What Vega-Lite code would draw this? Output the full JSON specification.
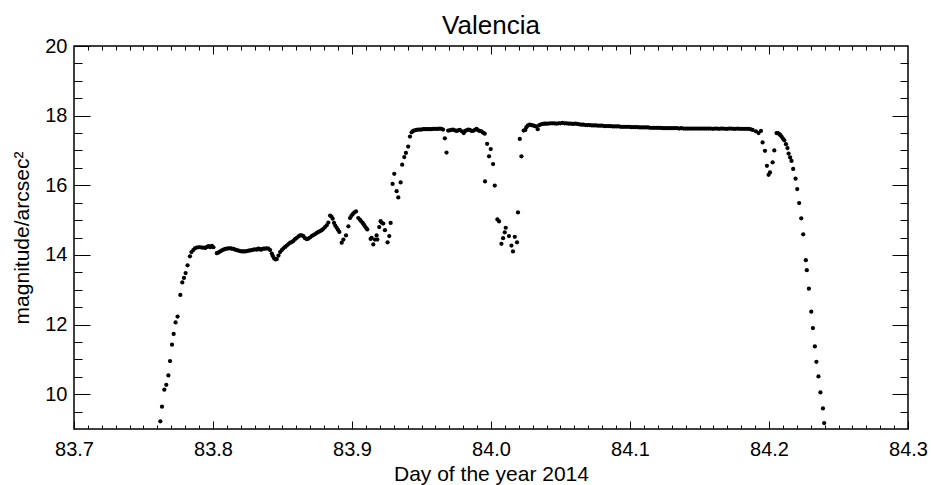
{
  "$schema": "https://vega.github.io/schema/vega-lite/v6.json",
  "width": 834,
  "height": 383,
  "autosize": {"type": "none"},
  "padding": {"left": 74, "top": 46, "right": 23, "bottom": 56},
  "title": {"text": "Valencia", "fontSize": 26, "fontWeight": "normal", "font": "Liberation Sans", "color": "black", "offset": 8, "dy": 11, "anchor": "middle"},
  "config": {
    "font": "Liberation Sans",
    "view": {"stroke": "black", "strokeWidth": 1.5},
    "axis": {"grid": false, "domain": false, "tickColor": "black", "tickWidth": 1, "labelColor": "black", "titleColor": "black", "labelFontSize": 20, "titleFontSize": 21, "titleFontWeight": "normal", "labelFlush": false, "labelOverlap": false}
  },
  "data": {"values": [
    {"d":83.7621,"m":9.22},{"d":83.7633,"m":9.64},{"d":83.7650,"m":10.13},{"d":83.7664,"m":10.27},{"d":83.7679,"m":10.54},{"d":83.7691,"m":10.95},{"d":83.7705,"m":11.42},{"d":83.7717,"m":11.73},{"d":83.7731,"m":12.06},{"d":83.7745,"m":12.23},{"d":83.7765,"m":12.85},{"d":83.7779,"m":13.21},{"d":83.7791,"m":13.34},{"d":83.7803,"m":13.48},{"d":83.7817,"m":13.70},{"d":83.7834,"m":13.96},
    {"d":83.7845,"m":14.08},{"d":83.7858,"m":14.14},{"d":83.7870,"m":14.19},{"d":83.7882,"m":14.21},{"d":83.7895,"m":14.22},{"d":83.7908,"m":14.22},{"d":83.7920,"m":14.21},{"d":83.7933,"m":14.21},{"d":83.7945,"m":14.20},{"d":83.7957,"m":14.23},{"d":83.7968,"m":14.25},{"d":83.7980,"m":14.22},{"d":83.7992,"m":14.26},{"d":83.8003,"m":14.22},
    {"d":83.8028,"m":14.05},{"d":83.8040,"m":14.07},{"d":83.8052,"m":14.10},{"d":83.8064,"m":14.13},{"d":83.8076,"m":14.15},{"d":83.8088,"m":14.17},{"d":83.8100,"m":14.18},{"d":83.8112,"m":14.19},{"d":83.8124,"m":14.19},{"d":83.8136,"m":14.18},{"d":83.8148,"m":14.17},{"d":83.8160,"m":14.15},{"d":83.8172,"m":14.14},{"d":83.8184,"m":14.12},{"d":83.8196,"m":14.11},{"d":83.8208,"m":14.10},{"d":83.8219,"m":14.10},{"d":83.8232,"m":14.10},{"d":83.8244,"m":14.11},{"d":83.8256,"m":14.12},{"d":83.8268,"m":14.13},{"d":83.8280,"m":14.14},{"d":83.8291,"m":14.15},{"d":83.8303,"m":14.16},{"d":83.8316,"m":14.15},{"d":83.8325,"m":14.18},{"d":83.8334,"m":14.17},{"d":83.8343,"m":14.15},{"d":83.8351,"m":14.16},{"d":83.8363,"m":14.18},{"d":83.8375,"m":14.18},{"d":83.8387,"m":14.19},{"d":83.8399,"m":14.18},{"d":83.8411,"m":14.14},{"d":83.8423,"m":14.04},{"d":83.8430,"m":13.97},{"d":83.8440,"m":13.90},{"d":83.8450,"m":13.87},{"d":83.8459,"m":13.88},{"d":83.8471,"m":13.98},{"d":83.8483,"m":14.08},{"d":83.8495,"m":14.14},{"d":83.8507,"m":14.19},{"d":83.8519,"m":14.23},{"d":83.8531,"m":14.27},{"d":83.8543,"m":14.31},{"d":83.8555,"m":14.35},{"d":83.8567,"m":14.37},{"d":83.8578,"m":14.40},{"d":83.8590,"m":14.45},{"d":83.8603,"m":14.49},{"d":83.8615,"m":14.53},{"d":83.8627,"m":14.56},{"d":83.8639,"m":14.56},{"d":83.8650,"m":14.54},{"d":83.8662,"m":14.48},{"d":83.8675,"m":14.45},{"d":83.8686,"m":14.47},{"d":83.8698,"m":14.50},{"d":83.8710,"m":14.54},{"d":83.8722,"m":14.57},{"d":83.8735,"m":14.60},{"d":83.8747,"m":14.63},{"d":83.8758,"m":14.66},{"d":83.8770,"m":14.68},{"d":83.8782,"m":14.71},{"d":83.8794,"m":14.75},{"d":83.8806,"m":14.80},{"d":83.8818,"m":14.85},{"d":83.8830,"m":14.93},{"d":83.8842,"m":15.13},{"d":83.8852,"m":15.10},{"d":83.8861,"m":15.04},{"d":83.8871,"m":14.92},{"d":83.8880,"m":14.84},{"d":83.8890,"m":14.78},{"d":83.8899,"m":14.72},{"d":83.8909,"m":14.66},
    {"d":83.8926,"m":14.35},{"d":83.8938,"m":14.44},{"d":83.8957,"m":14.56},{"d":83.8974,"m":14.82},{"d":83.8986,"m":15.06},{"d":83.8995,"m":15.12},{"d":83.9005,"m":15.17},{"d":83.9017,"m":15.22},{"d":83.9029,"m":15.25},{"d":83.9045,"m":15.06},{"d":83.9057,"m":15.01},{"d":83.9067,"m":14.96},{"d":83.9077,"m":14.92},{"d":83.9085,"m":14.87},{"d":83.9093,"m":14.82},{"d":83.9102,"m":14.77},{"d":83.9110,"m":14.73},{"d":83.9134,"m":14.46},{"d":83.9141,"m":14.49},{"d":83.9153,"m":14.30},{"d":83.9165,"m":14.44},{"d":83.9177,"m":14.56},{"d":83.9182,"m":14.44},{"d":83.9196,"m":14.80},{"d":83.9206,"m":14.97},{"d":83.9213,"m":14.93},{"d":83.9225,"m":14.90},{"d":83.9237,"m":14.71},{"d":83.9256,"m":14.36},{"d":83.9268,"m":14.54},{"d":83.9278,"m":14.92},
    {"d":83.9292,"m":16.04},{"d":83.9304,"m":16.33},{"d":83.9321,"m":15.83},{"d":83.9333,"m":15.65},{"d":83.9350,"m":16.08},{"d":83.9361,"m":16.59},{"d":83.9376,"m":16.81},{"d":83.9388,"m":16.93},{"d":83.9404,"m":17.11},{"d":83.9417,"m":17.40},{"d":83.9429,"m":17.52},{"d":83.9440,"m":17.56},
    {"d":83.9452,"m":17.58},{"d":83.9464,"m":17.59},{"d":83.9476,"m":17.60},{"d":83.9488,"m":17.60},{"d":83.9500,"m":17.60},{"d":83.9512,"m":17.61},{"d":83.9524,"m":17.61},{"d":83.9536,"m":17.61},{"d":83.9548,"m":17.61},{"d":83.9560,"m":17.61},{"d":83.9572,"m":17.61},{"d":83.9584,"m":17.62},{"d":83.9596,"m":17.62},{"d":83.9608,"m":17.62},{"d":83.9620,"m":17.62},{"d":83.9632,"m":17.63},{"d":83.9644,"m":17.62},{"d":83.9655,"m":17.60},{"d":83.9668,"m":17.35},{"d":83.9680,"m":16.94},
    {"d":83.9692,"m":17.57},{"d":83.9704,"m":17.58},{"d":83.9716,"m":17.59},{"d":83.9727,"m":17.60},{"d":83.9740,"m":17.58},{"d":83.9752,"m":17.56},{"d":83.9764,"m":17.58},{"d":83.9776,"m":17.59},{"d":83.9790,"m":17.55},{"d":83.9804,"m":17.50},{"d":83.9814,"m":17.56},{"d":83.9824,"m":17.58},{"d":83.9836,"m":17.60},{"d":83.9847,"m":17.59},{"d":83.9859,"m":17.56},{"d":83.9871,"m":17.56},{"d":83.9884,"m":17.59},{"d":83.9896,"m":17.62},{"d":83.9908,"m":17.58},{"d":83.9919,"m":17.56},{"d":83.9931,"m":17.55},{"d":83.9943,"m":17.51},{"d":83.9955,"m":17.48},
    {"d":83.9957,"m":16.11},{"d":83.9972,"m":17.19},{"d":83.9986,"m":16.83},{"d":83.9998,"m":17.04},{"d":84.0015,"m":16.61},{"d":84.0027,"m":15.99},{"d":84.0046,"m":15.02},{"d":84.0058,"m":14.96},{"d":84.0075,"m":14.32},{"d":84.0087,"m":14.48},{"d":84.0099,"m":14.65},{"d":84.0106,"m":14.78},{"d":84.0129,"m":14.54},{"d":84.0147,"m":14.27},{"d":84.0158,"m":14.10},{"d":84.0171,"m":14.52},{"d":84.0187,"m":14.36},{"d":84.0194,"m":15.22},{"d":84.0207,"m":17.33},{"d":84.0219,"m":16.83},
    {"d":84.0235,"m":17.57},{"d":84.0247,"m":17.59},{"d":84.0255,"m":17.67},{"d":84.0266,"m":17.72},{"d":84.0278,"m":17.74},{"d":84.0290,"m":17.73},{"d":84.0302,"m":17.72},{"d":84.0314,"m":17.70},{"d":84.0326,"m":17.69},{"d":84.0336,"m":17.61},{"d":84.0348,"m":17.73},{"d":84.0360,"m":17.75},{"d":84.0372,"m":17.76},{"d":84.0384,"m":17.77},
    {"d":84.0395,"m":17.77},{"d":84.0410,"m":17.77},{"d":84.0425,"m":17.78},{"d":84.0440,"m":17.78},{"d":84.0455,"m":17.78},{"d":84.0470,"m":17.77},{"d":84.0485,"m":17.78},{"d":84.0500,"m":17.78},{"d":84.0515,"m":17.79},{"d":84.0530,"m":17.78},{"d":84.0545,"m":17.78},{"d":84.0560,"m":17.77},{"d":84.0575,"m":17.77},{"d":84.0590,"m":17.76},{"d":84.0605,"m":17.77},{"d":84.0620,"m":17.76},{"d":84.0635,"m":17.75},{"d":84.0650,"m":17.74},{"d":84.0665,"m":17.74},{"d":84.0680,"m":17.73},{"d":84.0695,"m":17.73},{"d":84.0710,"m":17.73},{"d":84.0725,"m":17.72},{"d":84.0740,"m":17.72},{"d":84.0755,"m":17.72},{"d":84.0770,"m":17.71},{"d":84.0785,"m":17.71},{"d":84.0800,"m":17.71},{"d":84.0815,"m":17.70},{"d":84.0830,"m":17.70},{"d":84.0845,"m":17.70},{"d":84.0860,"m":17.70},{"d":84.0875,"m":17.69},{"d":84.0890,"m":17.69},{"d":84.0905,"m":17.69},{"d":84.0920,"m":17.69},{"d":84.0935,"m":17.68},{"d":84.0950,"m":17.68},{"d":84.0965,"m":17.68},{"d":84.0980,"m":17.68},{"d":84.0995,"m":17.68},{"d":84.1010,"m":17.67},{"d":84.1025,"m":17.67},{"d":84.1040,"m":17.67},{"d":84.1055,"m":17.67},{"d":84.1070,"m":17.66},{"d":84.1085,"m":17.66},{"d":84.1100,"m":17.66},{"d":84.1115,"m":17.66},{"d":84.1130,"m":17.66},{"d":84.1145,"m":17.65},{"d":84.1160,"m":17.65},{"d":84.1175,"m":17.65},{"d":84.1190,"m":17.65},{"d":84.1205,"m":17.65},{"d":84.1220,"m":17.65},{"d":84.1235,"m":17.64},{"d":84.1250,"m":17.64},{"d":84.1265,"m":17.64},{"d":84.1280,"m":17.64},{"d":84.1295,"m":17.64},{"d":84.1310,"m":17.64},{"d":84.1325,"m":17.64},{"d":84.1340,"m":17.64},{"d":84.1355,"m":17.63},{"d":84.1370,"m":17.64},{"d":84.1385,"m":17.63},{"d":84.1400,"m":17.63},{"d":84.1415,"m":17.63},{"d":84.1430,"m":17.63},{"d":84.1445,"m":17.63},{"d":84.1460,"m":17.63},{"d":84.1475,"m":17.63},{"d":84.1490,"m":17.63},{"d":84.1505,"m":17.63},{"d":84.1520,"m":17.63},{"d":84.1535,"m":17.63},{"d":84.1550,"m":17.63},{"d":84.1565,"m":17.63},{"d":84.1580,"m":17.63},{"d":84.1595,"m":17.62},{"d":84.1610,"m":17.63},{"d":84.1625,"m":17.63},{"d":84.1640,"m":17.62},{"d":84.1655,"m":17.63},{"d":84.1670,"m":17.63},{"d":84.1685,"m":17.62},{"d":84.1700,"m":17.62},{"d":84.1715,"m":17.63},{"d":84.1730,"m":17.63},{"d":84.1745,"m":17.62},{"d":84.1760,"m":17.62},{"d":84.1775,"m":17.63},{"d":84.1790,"m":17.62},{"d":84.1805,"m":17.62},{"d":84.1820,"m":17.62},{"d":84.1835,"m":17.62},{"d":84.1850,"m":17.62},{"d":84.1865,"m":17.61},
    {"d":84.1882,"m":17.59},{"d":84.1906,"m":17.55},{"d":84.1925,"m":17.50},{"d":84.1942,"m":17.56},{"d":84.1954,"m":17.23},{"d":84.1971,"m":16.99},{"d":84.1985,"m":16.56},{"d":84.1997,"m":16.30},{"d":84.2007,"m":16.37},{"d":84.2026,"m":16.66},{"d":84.2038,"m":17.00},
    {"d":84.2054,"m":17.50},{"d":84.2064,"m":17.50},{"d":84.2074,"m":17.47},{"d":84.2082,"m":17.44},{"d":84.2090,"m":17.40},{"d":84.2100,"m":17.34},{"d":84.2110,"m":17.29},{"d":84.2122,"m":17.18},{"d":84.2133,"m":17.07},{"d":84.2141,"m":16.91},{"d":84.2152,"m":16.80},{"d":84.2162,"m":16.70},{"d":84.2174,"m":16.47},{"d":84.2191,"m":16.19},{"d":84.2203,"m":15.89},{"d":84.2217,"m":15.49},{"d":84.2232,"m":15.05},{"d":84.2246,"m":14.59},{"d":84.2265,"m":13.85},{"d":84.2272,"m":13.56},{"d":84.2287,"m":13.03},{"d":84.2304,"m":12.37},{"d":84.2316,"m":11.90},{"d":84.2330,"m":11.37},{"d":84.2341,"m":10.93},{"d":84.2356,"m":10.51},{"d":84.2370,"m":10.05},{"d":84.2388,"m":9.59},{"d":84.2397,"m":9.17}
  ]},
  "layer": [
    {
      "mark": {"type": "circle", "color": "black", "opacity": 1, "size": 18},
      "encoding": {
        "x": {"field": "d", "type": "quantitative", "scale": {"domain": [83.7, 84.3], "nice": false, "zero": false},
              "axis": {"orient": "bottom", "values": [83.7, 83.8, 83.9, 84.0, 84.1, 84.2, 84.3], "format": ".1f", "tickSize": -8, "labelPadding": 18, "title": "Day of the year 2014", "titlePadding": 4}},
        "y": {"field": "m", "type": "quantitative", "scale": {"domain": [9, 20], "nice": false, "zero": false},
              "axis": {"orient": "left", "values": [10, 12, 14, 16, 18, 20], "format": "d", "tickSize": -16, "labelPadding": 23, "title": "magnitude/arcsec²", "titlePadding": 12}}
      }
    },
    {
      "mark": {"type": "circle", "opacity": 0},
      "encoding": {
        "x": {"field": "d", "type": "quantitative", "scale": {"domain": [83.7, 84.3], "nice": false, "zero": false},
              "axis": {"orient": "bottom", "values": [83.71,83.72,83.73,83.74,83.75,83.76,83.77,83.78,83.79,83.81,83.82,83.83,83.84,83.85,83.86,83.87,83.88,83.89,83.91,83.92,83.93,83.94,83.95,83.96,83.97,83.98,83.99,84.01,84.02,84.03,84.04,84.05,84.06,84.07,84.08,84.09,84.11,84.12,84.13,84.14,84.15,84.16,84.17,84.18,84.19,84.21,84.22,84.23,84.24,84.25,84.26,84.27,84.28,84.29], "tickSize": -4, "labels": false, "title": null}},
        "y": {"field": "m", "type": "quantitative", "scale": {"domain": [9, 20], "nice": false, "zero": false},
              "axis": {"orient": "left", "values": [9.5,10.5,11,11.5,12.5,13,13.5,14.5,15,15.5,16.5,17,17.5,18.5,19,19.5], "tickSize": -8, "labels": false, "title": null}}
      }
    },
    {
      "mark": {"type": "circle", "opacity": 0},
      "encoding": {
        "x": {"field": "d", "type": "quantitative", "scale": {"domain": [83.7, 84.3], "nice": false, "zero": false},
              "axis": {"orient": "top", "values": [83.8, 83.9, 84.0, 84.1, 84.2], "tickSize": -8, "labels": false, "title": null}},
        "y": {"field": "m", "type": "quantitative", "scale": {"domain": [9, 20], "nice": false, "zero": false},
              "axis": {"orient": "right", "values": [10, 12, 14, 16, 18], "tickSize": -16, "labels": false, "title": null}}
      }
    },
    {
      "mark": {"type": "circle", "opacity": 0},
      "encoding": {
        "x": {"field": "d", "type": "quantitative", "scale": {"domain": [83.7, 84.3], "nice": false, "zero": false},
              "axis": {"orient": "top", "values": [83.71,83.72,83.73,83.74,83.75,83.76,83.77,83.78,83.79,83.81,83.82,83.83,83.84,83.85,83.86,83.87,83.88,83.89,83.91,83.92,83.93,83.94,83.95,83.96,83.97,83.98,83.99,84.01,84.02,84.03,84.04,84.05,84.06,84.07,84.08,84.09,84.11,84.12,84.13,84.14,84.15,84.16,84.17,84.18,84.19,84.21,84.22,84.23,84.24,84.25,84.26,84.27,84.28,84.29], "tickSize": -4, "labels": false, "title": null}},
        "y": {"field": "m", "type": "quantitative", "scale": {"domain": [9, 20], "nice": false, "zero": false},
              "axis": {"orient": "right", "values": [9.5,10.5,11,11.5,12.5,13,13.5,14.5,15,15.5,16.5,17,17.5,18.5,19,19.5], "tickSize": -8, "labels": false, "title": null}}
      }
    }
  ],
  "resolve": {"axis": {"x": "independent", "y": "independent"}}
}
